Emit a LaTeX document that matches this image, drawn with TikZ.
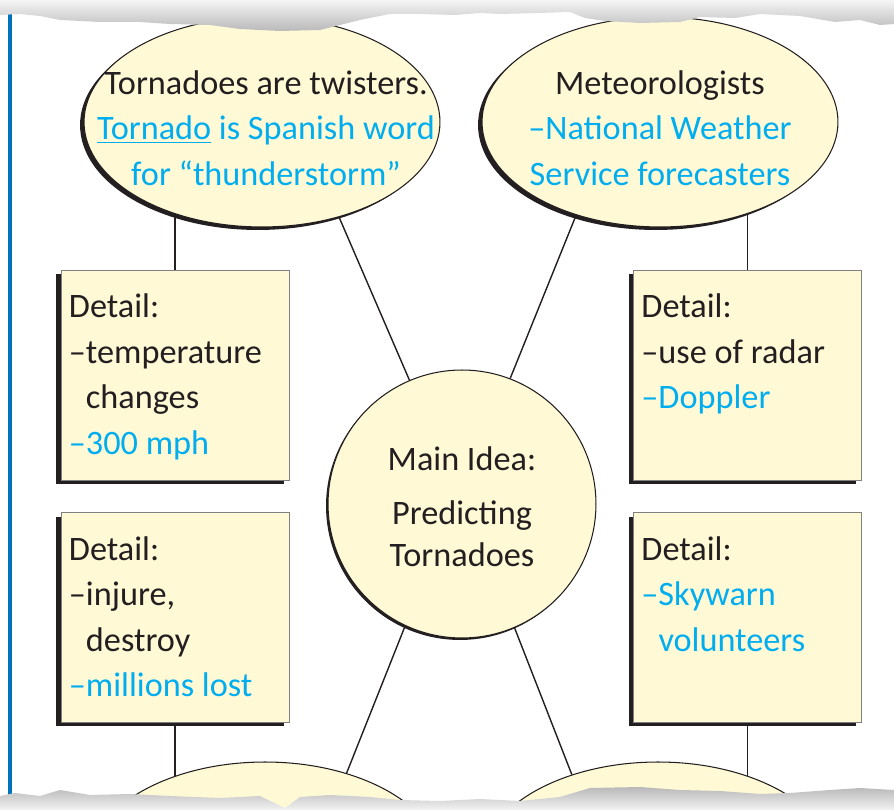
\documentclass[tikz,border=0pt]{standalone}
\usepackage{fontspec}
\setmainfont{Carlito}
\usetikzlibrary{shapes.geometric,shadows,backgrounds}
\definecolor{noteYellow}{RGB}{255,249,214}
\definecolor{inkCyan}{RGB}{0,174,239}
\definecolor{inkBlack}{RGB}{35,31,32}
\definecolor{marginBlue}{RGB}{0,114,188}

\begin{document}
\begin{tikzpicture}[x=0.02cm,y=-0.02cm,
    bubble/.style={ellipse,draw=inkBlack,line width=0.6pt,fill=noteYellow,
      minimum width=7.12cm,minimum height=4.2cm,inner sep=0pt,
      general shadow={fill=inkBlack,shadow xshift=-0.08cm,shadow yshift=-0.06cm}},
    mainidea/.style={circle,draw=inkBlack,line width=0.6pt,fill=noteYellow,
      minimum size=5.36cm,inner sep=0pt,
      general shadow={fill=inkBlack,shadow xshift=-0.04cm,shadow yshift=-0.04cm}},
    detailbox/.style={rectangle,draw=gray,line width=0.5pt,fill=noteYellow,
      minimum width=4.56cm,minimum height=4.2cm,inner sep=0pt,
      general shadow={fill=inkBlack,shadow xshift=-0.1cm,shadow yshift=-0.08cm}},
    inktext/.style={font=\fontsize{19.5}{25.9}\selectfont,text=inkBlack,inner sep=0pt},
    notetext/.style={inktext,align=left,anchor=north west},
    link/.style={draw=inkBlack,line width=0.8pt}]
  \useasboundingbox (0,0) rectangle (894,810);

  % bubbles and main idea
  \node[bubble] (twister) at (262,122) {};
  \node[bubble] (forecast) at (660,122) {};
  \node[bubble] (lowleft) at (265,867) {};
  \node[bubble] (lowright) at (658,867) {};
  \node[mainidea] (main) at (462,504) {};

  % detail boxes
  \node[detailbox] (temp) at (175,375) {};
  \node[detailbox] (radar) at (747.5,375) {};
  \node[detailbox] (damage) at (175,617.5) {};
  \node[detailbox] (sky) at (747.5,617.5) {};

  % texts
  \node[inktext,align=center] (twisterText) at (266,128) {Tornadoes are twisters.\\
    \textcolor{inkCyan}{\underline{Tornado} is Spanish word}\\
    \textcolor{inkCyan}{for ``thunderstorm''}};
  \node[inktext,align=center] (forecastText) at (660,128) {Meteorologists\\
    \textcolor{inkCyan}{--National Weather}\\
    \textcolor{inkCyan}{Service forecasters}};
  \node[inktext,align=center,font=\fontsize{19.5}{23.9}\selectfont] (mainText)
    at ([yshift=-0.06cm]main) {Main Idea:\\[7pt]Predicting\\Tornadoes};
  \node[notetext] (tempText) at ([shift={(8,24)}]temp.north west) {Detail:\\
    --temperature\\\phantom{--}changes\\\textcolor{inkCyan}{--300 mph}};
  \node[notetext] (radarText) at ([shift={(8,24)}]radar.north west) {Detail:\\
    --use of radar\\\textcolor{inkCyan}{--Doppler}};
  \node[notetext] (damageText) at ([shift={(8,24)}]damage.north west) {Detail:\\
    --injure,\\\phantom{--}destroy\\\textcolor{inkCyan}{--millions lost}};
  \node[notetext] (skyText) at ([shift={(8,24)}]sky.north west) {Detail:\\
    \textcolor{inkCyan}{--Skywarn}\\\textcolor{inkCyan}{\phantom{--}volunteers}};

  % connectors
  \begin{scope}[on background layer]
    \draw[marginBlue,line width=1.8pt] (10,10) -- (10,800);
    \draw[link] (temp.north) -- (temp.north |- twister.center);
    \draw[link] (radar.north) -- (radar.north |- forecast.center);
    \draw[link] (damage.south) -- (damage.south |- lowleft.center);
    \draw[link] (sky.south) -- (sky.south |- lowright.center);
    \draw[link] (main.113.6) -- (twister.-51);
    \draw[link] (main.69.3) -- (forecast.228.6);
    \draw[link] (main.245) -- (lowleft.49.2);
    \draw[link] (main.-67.9) -- (lowright.133.3);
  \end{scope}

  % torn paper edges
  \shade[top color=gray!8,bottom color=gray!55]
    (0,0) -- (894,0) -- (894,24) -- (880,25) -- (860,20) -- (835,22) -- (800,16)
    -- (760,14) -- (735,18) -- (700,17) -- (680,22) -- (640,23) -- (605,21)
    -- (585,18) -- (570,12) -- (540,13) -- (500,14) -- (480,13) -- (455,15)
    -- (420,14) -- (390,14) -- (360,20) -- (340,25) -- (320,30) -- (280,31)
    -- (240,29) -- (210,25) -- (170,24) -- (140,22) -- (100,22) -- (60,20)
    -- (40,16) -- (20,14) -- (0,15) -- cycle;
  \shade[top color=gray!55,bottom color=gray!10]
    (0,810) -- (0,796) -- (15,793) -- (40,796) -- (60,790) -- (90,795)
    -- (130,794) -- (170,796) -- (220,798) -- (260,796) -- (285,808)
    -- (300,797) -- (330,795) -- (370,797) -- (400,800) -- (440,801)
    -- (480,799) -- (520,801) -- (560,797) -- (590,788) -- (640,787)
    -- (680,790) -- (720,791) -- (760,794) -- (790,793) -- (830,790)
    -- (860,788) -- (894,790) -- (894,810) -- cycle;
\end{tikzpicture}
\end{document}
